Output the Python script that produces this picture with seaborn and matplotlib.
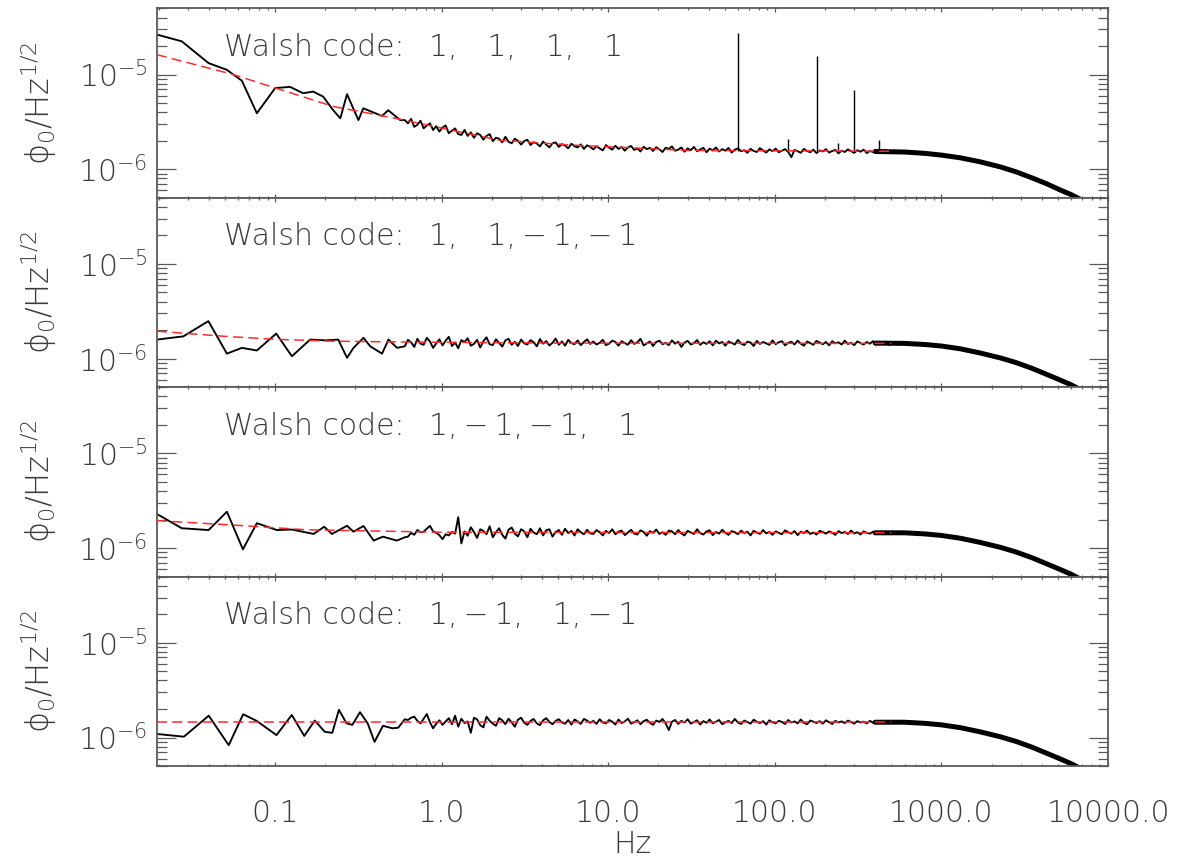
import numpy as np
import pandas as pd
import matplotlib
matplotlib.use("Agg")
import matplotlib.pyplot as plt
import seaborn as sns
from matplotlib import font_manager as fm
from matplotlib.ticker import LogLocator, FixedLocator, FixedFormatter, NullFormatter

# amplitudes are stored in units of 1e-6 phi0 / Hz^(1/2)
UNIT = 1e-6

# entries are separated so that "+1" and "-1" take the same width
SEP_POS = ",\u2003"
SEP_NEG = ",\u2009\u2212\u2009"
walsh_codes = [
    "1" + SEP_POS + "1" + SEP_POS + "1" + SEP_POS + "1",
    "1" + SEP_POS + "1" + SEP_NEG + "1" + SEP_NEG + "1",
    "1" + SEP_NEG + "1" + SEP_NEG + "1" + SEP_POS + "1",
    "1" + SEP_NEG + "1" + SEP_POS + "1" + SEP_NEG + "1",
]

# ---- lowest frequency bins (Hz), one list per demodulation pattern ----
low_freq_1 = [0.0195, 0.0275, 0.0398, 0.0513, 0.0631, 0.0776, 0.100, 0.123, 0.147, 0.169,
              0.194, 0.223, 0.246, 0.270, 0.316, 0.338, 0.438, 0.477, 0.563]
low_amp_1 = [26.4, 22.4, 13.2, 11.2, 8.6, 3.9, 7.2, 7.4, 6.35, 6.6,
             5.85, 4.2, 3.45, 6.2, 3.3, 4.4, 3.65, 4.2, 3.3]

low_freq_2 = [0.0195, 0.0281, 0.0397, 0.0513, 0.0631, 0.0776, 0.1014, 0.126, 0.162, 0.200,
              0.239, 0.270, 0.295, 0.339, 0.372, 0.438, 0.479, 0.539]
low_amp_2 = [1.59, 1.72, 2.49, 1.13, 1.30, 1.22, 1.84, 1.06, 1.59, 1.56,
             1.59, 1.02, 1.30, 1.66, 1.35, 1.13, 1.59, 1.30]

low_freq_3 = [0.0195, 0.0275, 0.0398, 0.0513, 0.064, 0.0776, 0.1024, 0.126, 0.170, 0.197,
              0.219, 0.270, 0.295, 0.339, 0.390, 0.443, 0.538]
low_amp_3 = [2.29, 1.62, 1.55, 2.42, 0.97, 1.83, 1.55, 1.57, 1.41, 1.68,
             1.41, 1.72, 1.49, 1.71, 1.20, 1.32, 1.20]

low_freq_4 = [0.0195, 0.0283, 0.0399, 0.0526, 0.0642, 0.0773, 0.1018, 0.1258, 0.1494, 0.1729,
              0.1983, 0.2201, 0.2413, 0.2682, 0.2904, 0.3228, 0.3592, 0.3948, 0.4436, 0.5063,
              0.5480]
low_amp_4 = [1.09, 1.02, 1.70, 0.83, 1.76, 1.50, 1.06, 1.73, 1.04, 1.51,
             1.15, 1.12, 1.96, 1.41, 1.36, 1.85, 1.41, 0.90, 1.33, 1.25,
             1.27]

# ---- 0.6 Hz .. 600 Hz, log-spaced bins shared by all four spectra ----
mid_freq = np.geomspace(0.6, 600.0, 160)

mid_amp_1 = [
    3.30, 3.05, 3.40, 2.80, 2.95, 3.25, 2.70, 2.90, 3.05, 2.60,
    2.85, 2.50, 2.75, 2.90, 2.40, 2.55, 2.70, 2.35, 2.30, 2.60,
    2.25, 2.45, 2.15, 2.40, 2.30, 2.05, 2.25, 2.35, 1.98, 2.15,
    2.10, 1.92, 2.20, 1.95, 1.88, 2.10, 2.00, 1.82, 1.98, 2.05,
    1.80, 1.93, 1.87, 1.74, 1.96, 1.82, 1.70, 1.88, 1.92, 1.72,
    1.84, 1.78, 1.66, 1.86, 1.75, 1.70, 1.83, 1.64, 1.79, 1.72,
    1.62, 1.75, 1.66, 1.58, 1.80, 1.69, 1.61, 1.77, 1.64, 1.72,
    1.57, 1.70, 1.76, 1.60, 1.66, 1.54, 1.73, 1.63, 1.68, 1.56,
    1.71, 1.62, 1.52, 1.69, 1.64, 1.74, 1.57, 1.61, 1.70, 1.53,
    1.66, 1.59, 1.72, 1.55, 1.62, 1.68, 1.51, 1.65, 1.58, 1.70,
    1.54, 1.63, 1.57, 1.68, 1.50, 1.61, 1.66, 1.55, 1.59, 1.49,
    1.64, 1.56, 1.52, 1.67, 1.58, 1.50, 1.62, 1.55, 1.65, 1.51,
    1.57, 1.63, 1.52, 1.34, 1.60, 1.55, 1.49, 1.64, 1.56, 1.51,
    1.61, 1.48, 1.58, 1.54, 1.63, 1.50, 1.56, 1.60, 1.47, 1.57,
    1.52, 1.62, 1.55, 1.49, 1.59, 1.53, 1.61, 1.48, 1.56, 1.52,
    1.58, 1.50, 1.55, 1.60, 1.49, 1.54, 1.57, 1.51, 1.55, 1.50,
]
mid_amp_2 = [
    1.35, 1.58, 1.49, 1.33, 1.62, 1.44, 1.40, 1.66, 1.52, 1.30,
    1.45, 1.60, 1.38, 1.55, 1.70, 1.36, 1.48, 1.29, 1.57, 1.50,
    1.64, 1.37, 1.43, 1.58, 1.31, 1.53, 1.68, 1.42, 1.39, 1.60,
    1.47, 1.34, 1.56, 1.62, 1.40, 1.51, 1.36, 1.59, 1.45, 1.41,
    1.57, 1.49, 1.35, 1.61, 1.44, 1.53, 1.38, 1.47, 1.63, 1.40,
    1.52, 1.37, 1.58, 1.46, 1.42, 1.56, 1.39, 1.50, 1.60, 1.43,
    1.52, 1.41, 1.47, 1.58, 1.39, 1.44, 1.55, 1.50, 1.37, 1.53,
    1.46, 1.40, 1.57, 1.43, 1.49, 1.62, 1.38, 1.45, 1.52, 1.36,
    1.50, 1.55, 1.42, 1.47, 1.39, 1.56, 1.44, 1.51, 1.33, 1.48,
    1.54, 1.41, 1.46, 1.57, 1.40, 1.49, 1.43, 1.53, 1.38, 1.55,
    1.45, 1.50, 1.37, 1.52, 1.47, 1.41, 1.58, 1.44, 1.39, 1.51,
    1.48, 1.36, 1.54, 1.43, 1.50, 1.45, 1.40, 1.56, 1.42, 1.49,
    1.53, 1.38, 1.47, 1.51, 1.41, 1.55, 1.44, 1.37, 1.52, 1.46,
    1.40, 1.54, 1.48, 1.42, 1.50, 1.38, 1.53, 1.45, 1.49, 1.41,
    1.55, 1.43, 1.47, 1.39, 1.52, 1.46, 1.41, 1.50, 1.44, 1.53,
    1.40, 1.48, 1.45, 1.51, 1.39, 1.47, 1.43, 1.50, 1.42, 1.46,
]
mid_amp_3 = [
    1.30, 1.32, 1.45, 1.38, 1.55, 1.47, 1.49, 1.60, 1.72, 1.50,
    1.45, 1.37, 1.24, 1.40, 1.36, 1.48, 1.42, 2.12, 1.12, 1.50,
    1.35, 1.66, 1.48, 1.28, 1.58, 1.52, 1.40, 1.70, 1.30, 1.47,
    1.62, 1.38, 1.26, 1.56, 1.65, 1.42, 1.33, 1.58, 1.50, 1.30,
    1.60, 1.46, 1.40, 1.62, 1.36, 1.54, 1.58, 1.32, 1.48, 1.55,
    1.38, 1.60, 1.44, 1.52, 1.36, 1.58, 1.47, 1.40, 1.56, 1.43,
    1.41, 1.55, 1.47, 1.36, 1.52, 1.44, 1.58, 1.40, 1.49, 1.53,
    1.37, 1.46, 1.56, 1.42, 1.39, 1.54, 1.48, 1.35, 1.51, 1.45,
    1.57, 1.41, 1.47, 1.38, 1.53, 1.50, 1.40, 1.55, 1.43, 1.36,
    1.52, 1.46, 1.41, 1.58, 1.44, 1.39, 1.50, 1.54, 1.37, 1.48,
    1.42, 1.56, 1.45, 1.38, 1.51, 1.47, 1.40, 1.53, 1.44, 1.49,
    1.36, 1.52, 1.46, 1.41, 1.55, 1.43, 1.48, 1.38, 1.50, 1.45,
    1.40, 1.54, 1.47, 1.42, 1.51, 1.37, 1.49, 1.44, 1.53, 1.41,
    1.46, 1.39, 1.52, 1.48, 1.42, 1.50, 1.45, 1.38, 1.51, 1.44,
    1.48, 1.41, 1.53, 1.43, 1.47, 1.39, 1.50, 1.45, 1.42, 1.49,
    1.44, 1.47, 1.40, 1.50, 1.43, 1.46, 1.41, 1.48, 1.44, 1.46,
]
mid_amp_4 = [
    1.56, 1.53, 1.62, 1.66, 1.50, 1.41, 1.58, 1.77, 1.45, 1.25,
    1.40, 1.52, 1.36, 1.48, 1.60, 1.38, 1.70, 1.30, 1.58, 1.42,
    1.48, 1.12, 1.62, 1.55, 1.35, 1.28, 1.66, 1.50, 1.40, 1.33,
    1.60, 1.52, 1.38, 1.58, 1.45, 1.30, 1.54, 1.62, 1.43, 1.36,
    1.50, 1.57, 1.41, 1.35, 1.52, 1.60, 1.46, 1.38, 1.50, 1.56,
    1.44, 1.40, 1.53, 1.37, 1.55, 1.48, 1.39, 1.57, 1.51, 1.43,
    1.50, 1.39, 1.56, 1.44, 1.41, 1.53, 1.47, 1.37, 1.55, 1.42,
    1.48, 1.58, 1.40, 1.45, 1.52, 1.38, 1.49, 1.54, 1.43, 1.36,
    1.51, 1.46, 1.57, 1.41, 1.20, 1.47, 1.53, 1.39, 1.50, 1.44,
    1.56, 1.40, 1.46, 1.52, 1.37, 1.49, 1.43, 1.55, 1.41, 1.47,
    1.53, 1.38, 1.45, 1.50, 1.42, 1.57, 1.44, 1.39, 1.51, 1.46,
    1.40, 1.54, 1.47, 1.42, 1.49, 1.37, 1.52, 1.45, 1.41, 1.50,
    1.46, 1.39, 1.53, 1.44, 1.48, 1.41, 1.55, 1.43, 1.38, 1.51,
    1.47, 1.42, 1.49, 1.40, 1.52, 1.45, 1.39, 1.50, 1.44, 1.48,
    1.42, 1.51, 1.46, 1.40, 1.49, 1.44, 1.47, 1.41, 1.50, 1.43,
    1.46, 1.42, 1.48, 1.44, 1.41, 1.47, 1.43, 1.46, 1.42, 1.45,
]

# ---- anti-aliasing roll-off (dense band of bins) ----
tail_freq = [400, 600, 800, 1000, 1300, 1700, 2250, 2800, 3500, 4300, 5100, 6000, 7000, 8000]
tail_amp_1 = [1.54, 1.52, 1.47, 1.41, 1.32, 1.20, 1.06, 0.94, 0.81, 0.70, 0.61, 0.54, 0.47, 0.42]
tail_amp_2 = [1.46, 1.45, 1.41, 1.36, 1.27, 1.15, 1.02, 0.91, 0.79, 0.68, 0.60, 0.53, 0.46, 0.41]
tail_amp_3 = [1.45, 1.45, 1.41, 1.36, 1.27, 1.15, 1.02, 0.91, 0.79, 0.68, 0.60, 0.53, 0.46, 0.41]
tail_amp_4 = [1.45, 1.45, 1.41, 1.36, 1.27, 1.15, 1.02, 0.91, 0.79, 0.68, 0.60, 0.53, 0.46, 0.41]

# ---- mains pick-up lines in the unmodulated spectrum ----
line_freq = [60, 120, 180, 240, 300, 420]
line_amp = [27.5, 2.1, 15.5, 1.9, 6.9, 2.03]
line_base = 1.55

# ---- 1/f + white noise fits ----
fit_freq_1 = [0.0195, 0.056, 0.223, 0.563, 2.2, 6.0, 30.0, 500.0]
fit_amp_1 = [16.2, 10.0, 4.6, 3.37, 2.03, 1.80, 1.58, 1.55]
fit_freq_2 = [0.0195, 0.05, 0.1, 0.22, 0.56, 5.0, 500.0]
fit_amp_2 = [1.95, 1.72, 1.60, 1.53, 1.50, 1.46, 1.45]
fit_freq_3 = [0.0195, 0.056, 0.155, 1.0, 500.0]
fit_amp_3 = [1.95, 1.75, 1.56, 1.47, 1.45]
fit_freq_4 = [0.0195, 500.0]
fit_amp_4 = [1.47, 1.47]

x_ticks = [0.1, 1.0, 10.0, 100.0, 1000.0, 10000.0]
x_tick_labels = ["0.1", "1.0", "10.0", "100.0", "1000.0", "10000.0"]

panels = [
    (low_freq_1, low_amp_1, mid_amp_1, tail_amp_1, fit_freq_1, fit_amp_1),
    (low_freq_2, low_amp_2, mid_amp_2, tail_amp_2, fit_freq_2, fit_amp_2),
    (low_freq_3, low_amp_3, mid_amp_3, tail_amp_3, fit_freq_3, fit_amp_3),
    (low_freq_4, low_amp_4, mid_amp_4, tail_amp_4, fit_freq_4, fit_amp_4),
]


def _weight_of(entry):
    w = entry.weight
    if isinstance(w, str):
        w = fm.weight_dict.get(w, 400)
    return int(w)


def pick_thin_face():
    """Prefer a thin upright face so the labels read like plotter strokes."""
    prefs = [("DejaVu Sans", 250), ("Noto Sans", 300), ("Open Sans", 300),
             ("Lato", 300), ("Roboto", 300), ("Inter", 300)]
    for fam, wmax in prefs:
        for e in fm.fontManager.ttflist:
            if e.name == fam and e.style == "normal" and 200 <= _weight_of(e) <= wmax:
                return fam, _weight_of(e)
    return "DejaVu Sans", 400


FACE, WEIGHT = pick_thin_face()

sns.set_theme(style="ticks")
TEXT = "#3c3c3c"
AXC = "#5a5a5a"
plt.rcParams.update({
    "font.family": [FACE, "DejaVu Sans"],
    "font.weight": WEIGHT,
    "axes.edgecolor": AXC,
    "axes.linewidth": 1.3,
    "xtick.color": AXC,
    "ytick.color": AXC,
    "xtick.labelcolor": TEXT,
    "ytick.labelcolor": TEXT,
    "axes.labelcolor": TEXT,
    "axes.labelweight": WEIGHT,
})
if WEIGHT < 400:
    plt.rcParams.update({
        "mathtext.fontset": "custom",
        "mathtext.rm": f"{FACE}:weight={WEIGHT}",
        "mathtext.sf": f"{FACE}:weight={WEIGHT}",
        "mathtext.it": f"{FACE}:weight={WEIGHT}",
        "mathtext.bf": f"{FACE}:weight={WEIGHT}",
        "mathtext.fallback": "stixsans",
    })
else:
    plt.rcParams["mathtext.fontset"] = "dejavusans"

FS = 21.5

fig, axes = plt.subplots(4, 1, figsize=(11.8, 8.58), dpi=100, sharex=True,
                         gridspec_kw=dict(hspace=0))
fig.subplots_adjust(left=0.133, right=0.939, top=0.9903, bottom=0.1072)

for i, (ax, (lf, la, ma, ta, ff, fa)) in enumerate(zip(axes, panels)):
    spec = pd.DataFrame({
        "freq": list(lf) + list(mid_freq),
        "amp": [v * UNIT for v in list(la) + list(ma)],
    })
    tail = pd.DataFrame({"freq": tail_freq, "amp": [v * UNIT for v in ta]})
    fit = pd.DataFrame({"freq": ff, "amp": [v * UNIT for v in fa]})

    ax.set_xscale("log")
    ax.set_yscale("log")
    sns.lineplot(data=spec, x="freq", y="amp", ax=ax, color="black", lw=1.35,
                 estimator=None, sort=True, zorder=2)
    sns.lineplot(data=tail, x="freq", y="amp", ax=ax, color="black", lw=3.6,
                 estimator=None, sort=True, zorder=2)
    if i == 0:
        ax.vlines(line_freq, line_base * UNIT, [v * UNIT for v in line_amp],
                  color="black", lw=1.0, zorder=2)
    sns.lineplot(data=fit, x="freq", y="amp", ax=ax, color="#ff2a2a", lw=1.1,
                 estimator=None, sort=True, zorder=3)
    ax.lines[-1].set_dashes((6.5, 3.5))

    ax.set_xlim(0.0195, 10000.0)
    ax.set_ylim(5e-7, 5e-5)

    ax.yaxis.set_major_locator(LogLocator(base=10))
    ax.yaxis.set_minor_locator(LogLocator(base=10, subs=np.arange(2, 10)))
    ax.yaxis.set_minor_formatter(NullFormatter())
    ax.xaxis.set_major_locator(FixedLocator(x_ticks))
    ax.xaxis.set_major_formatter(FixedFormatter(x_tick_labels))
    ax.xaxis.set_minor_locator(LogLocator(base=10, subs=np.arange(2, 10)))
    ax.xaxis.set_minor_formatter(NullFormatter())

    ax.tick_params(axis="y", which="major", direction="in", left=True, right=True,
                   length=13.5, width=0.9, labelsize=FS, pad=7)
    ax.tick_params(axis="y", which="minor", direction="in", left=True, right=True,
                   length=7.0, width=0.9)
    ax.tick_params(axis="x", which="major", direction="in", top=True, bottom=True,
                   length=3.0, width=0.9, labelsize=FS, pad=24)
    ax.tick_params(axis="x", which="minor", direction="in", top=True, bottom=True,
                   length=1.6, width=0.9)

    ax.set_xlabel("")
    ax.set_ylabel("\u03d5$_0$/Hz$^{1/2}$", fontsize=23)
    ax.yaxis.set_label_coords(-0.103, 0.5)

    ax.text(0.0705, 0.794, "Walsh code:\u2002 " + walsh_codes[i],
            transform=ax.transAxes, ha="left", va="center", fontsize=FS, color=TEXT)

axes[-1].set_xlabel("Hz", fontsize=FS, labelpad=1)

fig.savefig("out.png", dpi=100, facecolor="white")
